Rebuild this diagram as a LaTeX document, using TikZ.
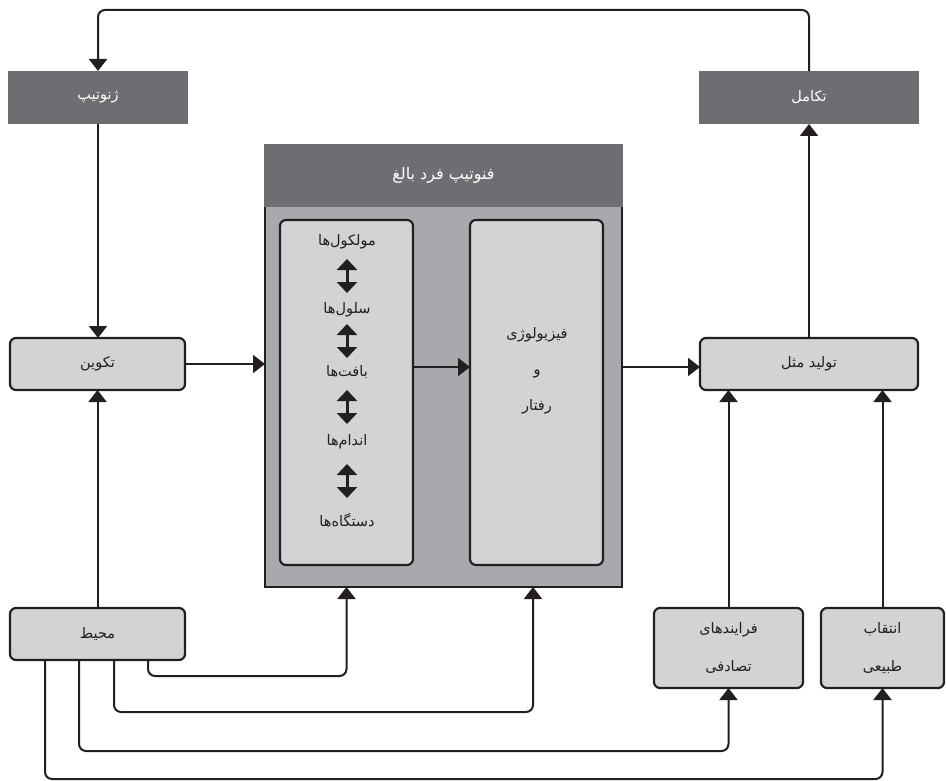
\documentclass[tikz,border=0pt]{standalone}
\usepackage{fontspec}
\usetikzlibrary{arrows.meta,calc}
\newfontfamily\arabicfont[Script=Arabic]{DejaVu Sans}
\TeXXeTstate=1
\definecolor{darkbox}{HTML}{6D6E71}
\definecolor{midbox}{HTML}{A7A9AC}
\definecolor{lightbox}{HTML}{D1D3D4}
\definecolor{ink}{HTML}{231F20}
\newcommand{\fa}[1]{\beginR #1\endR}
\begin{document}
\begin{tikzpicture}[x=1pt,y=-1pt,
  txt/.style={font=\arabicfont\fontsize{14.5}{16}\selectfont, inner sep=0pt, text=ink},
  tallt/.style={font=\arabicfont\fontsize{14.5}{38}\selectfont, align=center},
  darkbox/.style={fill=darkbox, draw=none, text=white, inner sep=0pt, outer sep=0pt,
    font=\arabicfont\fontsize{14.5}{16}\selectfont},
  lightnode/.style={fill=lightbox, draw=ink, line width=2.2pt, rounded corners=6pt,
    inner sep=0pt, outer sep=0pt, text=ink, font=\arabicfont\fontsize{14.5}{16}\selectfont},
  conn/.style={draw=ink, line width=2pt, rounded corners=7pt,
    -{Triangle[width=18pt,length=12pt]}},
  dbl/.style={draw=ink, line width=3pt,
    {Triangle[width=20pt,length=11pt]}-{Triangle[width=20pt,length=11pt]}}
]
\useasboundingbox (0,0) rectangle (946,781);

% top dark boxes
\node[darkbox, minimum width=180pt, minimum height=53pt] (geno) at (98,97.5) {\fa{ژنوتیپ}};
\node[darkbox, minimum width=220pt, minimum height=53pt] (evol) at (809,97.5) {\fa{تکامل}};

% phenotype container
\node[fill=midbox, draw=ink, line width=2.2pt, inner sep=0pt, outer sep=0pt,
      minimum width=357pt, minimum height=387pt] (phenbody) at (443.5,393.5) {};
\node[darkbox, minimum width=359pt, minimum height=63pt, font=\arabicfont\fontsize{16}{18}\selectfont]
  (phenhead) at (443.5,175.5) {\fa{فنوتیپ فرد بالغ}};

% inner boxes
\node[lightnode, minimum width=133pt, minimum height=345pt] (lbox) at (346.5,392.5) {};
\node[lightnode, minimum width=133pt, minimum height=345pt] (rbox) at (536.5,392.5) {};

% left box texts
\node[txt] (t1) at (347,242) {\fa{مولکول^^^^200cها}};
\node[txt] (t2) at (347,310) {\fa{سلول^^^^200cها}};
\node[txt] (t3) at (347,372) {\fa{بافت^^^^200cها}};
\node[txt] (t4) at (347,442) {\fa{اندام^^^^200cها}};
\node[txt] (t5) at (347,520) {\fa{دستگاه^^^^200cها}};
\draw[dbl] ($(t1)!0.5!(t2)+(0,-17)$) -- ($(t1)!0.5!(t2)+(0,17)$);
\draw[dbl] ($(t2)!0.5!(t3)+(0,-17)$) -- ($(t2)!0.5!(t3)+(0,17)$);
\draw[dbl] ($(t3)!0.5!(t4)+(0,-17)$) -- ($(t3)!0.5!(t4)+(0,17)$);
\draw[dbl] ($(t4)!0.5!(t5)+(0,-17)$) -- ($(t4)!0.5!(t5)+(0,17)$);

% right box text
\node[txt, align=center, font=\arabicfont\fontsize{14.5}{36}\selectfont] (physio) at (537,371)
  {\fa{فیزیولوژی}\\\fa{و}\\\fa{رفتار}};

% side boxes
\node[lightnode, minimum width=175pt, minimum height=52pt] (dev) at (97.5,364) {\fa{تکوین}};
\node[lightnode, minimum width=218pt, minimum height=52pt] (repro) at (809,364) {\fa{تولید مثل}};
\node[lightnode, minimum width=175pt, minimum height=52pt] (env) at (97.5,634) {\fa{محیط}};
\node[lightnode, tallt, minimum width=149pt, minimum height=80pt] (rand) at (728.5,648)
  {\fa{فرایندهای}\\\fa{تصادفی}};
\node[lightnode, tallt, minimum width=123pt, minimum height=80pt] (sel) at (882.5,648)
  {\fa{انتقاب}\\\fa{طبیعی}};

% connectors
\draw[conn] (evol.north) -- ++(0,-61) -| (geno.north);
\draw[conn] (geno.south) -- (geno.south |- dev.north);
\draw[conn] (env.north) -- (env.north |- dev.south);
\draw[conn] (dev.east) -- (dev.east -| phenbody.west);
\draw[conn] (lbox.east |- 0,367) -- (rbox.west |- 0,367);
\draw[conn] (phenbody.east |- 0,367) -- (repro.west |- 0,367);
\draw[conn] (repro.north -| evol.south) -- (evol.south);
\draw[conn] (rand.north) -- (rand.north |- repro.south);
\draw[conn] (sel.north) -- (sel.north |- repro.south);

% environment bottom connectors
\draw[conn] ([xshift=50.5pt]env.south) -- ++(0,16) -| (lbox.south |- phenbody.south);
\draw[conn] ([xshift=16.5pt]env.south) -- ++(0,52) -| ([xshift=-3.5pt]rbox.south |- phenbody.south);
\draw[conn] ([xshift=-18.5pt]env.south) -- ++(0,91) -| (rand.south);
\draw[conn] ([xshift=-52.5pt]env.south) -- ++(0,119) -| (sel.south);
\end{tikzpicture}
\end{document}
